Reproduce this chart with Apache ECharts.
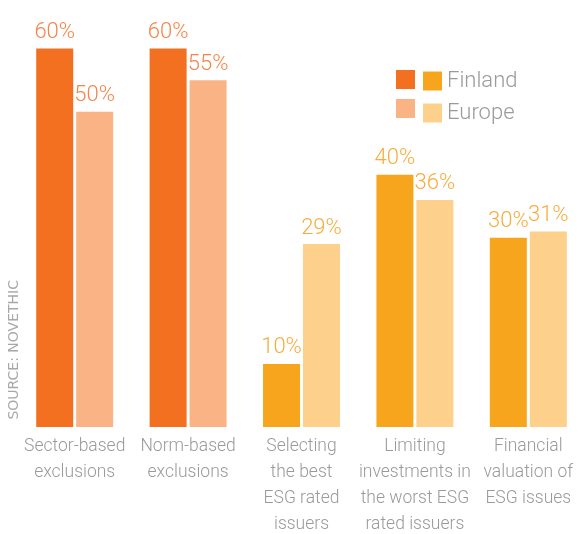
<!DOCTYPE html>
<html>
<head>
<meta charset="utf-8">
<script src="https://cdn.jsdelivr.net/npm/echarts@6/dist/echarts.min.js"></script>
<style>
  html, body { margin: 0; padding: 0; background: #fff; }
  #chart { width: 587px; height: 534px; }
</style>
</head>
<body>
<div id="chart"></div>
<script>
// Share of investors using each ESG strategy, Finland vs Europe (%)
const categories = [
  'Sector-based\nexclusions',
  'Norm-based\nexclusions',
  'Selecting\nthe best\nESG rated\nissuers',
  'Limiting\ninvestments in\nthe worst ESG\nrated issuers',
  'Financial\nvaluation of\nESG issues'
];
const finland = [60, 60, 10, 40, 30];
const europe = [50, 55, 29, 36, 31];

// Exclusion strategies in orange, the rest in amber
const exclusionGroup = [true, true, false, false, false];
const palette = {
  finland: { exclusion: '#F37021', other: '#F7A51D' },
  europe: { exclusion: '#F9B384', other: '#FDD08C' },
  label: { exclusion: '#F5844A', other: '#F8AC3C' }
};

const FONT = 'Roboto, "Liberation Sans", sans-serif';

function items(values, key) {
  return values.map((v, i) => {
    const g = exclusionGroup[i] ? 'exclusion' : 'other';
    return {
      value: v,
      itemStyle: { color: palette[key][g] },
      label: { color: palette.label[g] }
    };
  });
}

const labelStyle = {
  show: true,
  position: 'top',
  distance: 5,
  formatter: '{c}%',
  fontFamily: FONT,
  fontWeight: 300,
  fontSize: 22
};

const chart = echarts.init(document.getElementById('chart'), null, { renderer: 'canvas' });
chart.setOption({
  animation: false,
  backgroundColor: '#ffffff',
  grid: { left: 18, right: 2, top: 36, bottom: 107, outerBoundsMode: 'none', containLabel: false },
  xAxis: {
    type: 'category',
    data: categories,
    axisLine: { show: false },
    axisTick: { show: false },
    axisLabel: {
      interval: 0,
      margin: 7,
      color: '#9a9a9a',
      fontFamily: FONT,
      fontWeight: 300,
      fontSize: 17.5,
      lineHeight: 26
    }
  },
  yAxis: { type: 'value', min: 0, max: 62, show: false },
  legend: [
    {
      orient: 'vertical', left: 391, top: 65, itemWidth: 19, itemHeight: 19, itemGap: 10,
      selectedMode: false, icon: 'rect', formatter: () => '',
      data: [
        { name: 'Finland', itemStyle: { color: palette.finland.exclusion } },
        { name: 'Europe', itemStyle: { color: palette.europe.exclusion } }
      ]
    },
    {
      orient: 'vertical', left: 418, top: 65, itemWidth: 19, itemHeight: 19, itemGap: 10,
      selectedMode: false, icon: 'rect',
      textStyle: { color: '#9a9a9a', fontFamily: FONT, fontWeight: 300, fontSize: 22 },
      data: [
        { name: 'Finland', itemStyle: { color: palette.finland.other } },
        { name: 'Europe', itemStyle: { color: palette.europe.other } }
      ]
    }
  ],
  graphic: [
    {
      type: 'text',
      left: 7,
      top: 280,
      rotation: Math.PI / 2,
      style: {
        text: 'SOURCE: NOVETHIC',
        fill: '#a8a8a8',
        font: '14px "DejaVu Sans", sans-serif'
      }
    }
  ],
  series: [
    {
      name: 'Finland', type: 'bar', barWidth: 37, barGap: '8%',
      data: items(finland, 'finland'), label: labelStyle
    },
    {
      name: 'Europe', type: 'bar', barWidth: 37, barGap: '8%',
      data: items(europe, 'europe'), label: labelStyle
    }
  ]
});
</script>
</body>
</html>
